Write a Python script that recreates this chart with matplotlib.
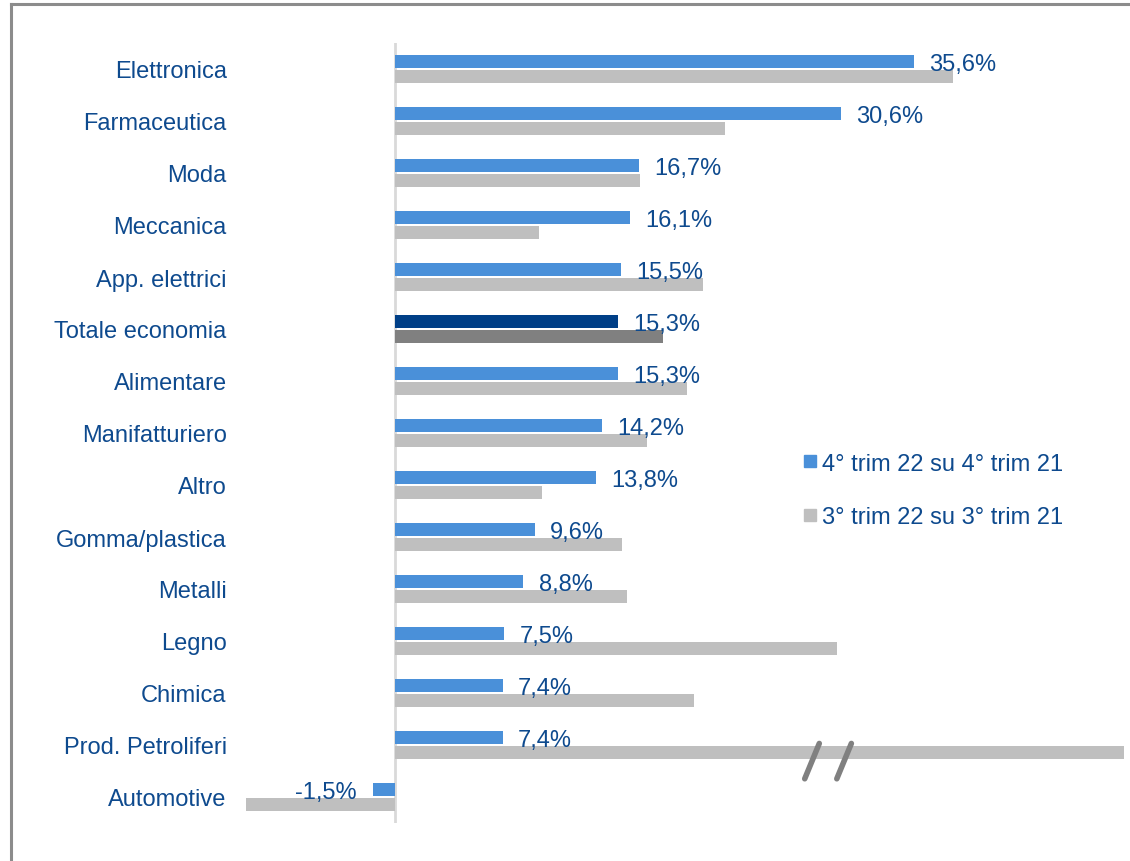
import matplotlib
matplotlib.use("Agg")
import matplotlib.pyplot as plt
import numpy as np
from matplotlib.lines import Line2D

plt.rcParams['font.family'] = ['Liberation Sans', 'DejaVu Sans']

categories = ["Elettronica", "Farmaceutica", "Moda", "Meccanica", "App. elettrici",
              "Totale economia", "Alimentare", "Manifatturiero", "Altro", "Gomma/plastica",
              "Metalli", "Legno", "Chimica", "Prod. Petroliferi", "Automotive"]
q4 = [35.6, 30.6, 16.7, 16.1, 15.5, 15.3, 15.3, 14.2, 13.8, 9.6, 8.8, 7.5, 7.4, 7.4, -1.5]
# grey series is not labelled in the source
# (Prod. Petroliferi is cut by an axis break)
q3 = [38.3, 22.6, 16.8, 9.9, 21.1, 18.4, 20.0, 17.3, 10.1, 15.6, 15.9, 30.3, 20.5, 52.0, -10.2]
legend_labels = ["4° trim 22 su 4° trim 21", "3° trim 22 su 3° trim 21"]

BLUE = "#4A90D9"
BLUE_TOT = "#003F87"
GREY = "#BFBFBF"
GREY_TOT = "#808080"
TXT = "#0E4A8E"

y = np.arange(len(categories))
c4 = [BLUE_TOT if c == "Totale economia" else BLUE for c in categories]
c3 = [GREY_TOT if c == "Totale economia" else GREY for c in categories]

fig = plt.figure(figsize=(11.3, 8.62), dpi=100)
ax = fig.add_axes([243.4 / 1130, 38 / 862, 880.6 / 1130, 780 / 862])

off = 0.144
h = 0.25
ax.barh(y - off, q4, height=h, color=c4, zorder=2)
ax.barh(y + off, q3, height=h, color=c3, zorder=2)

for yi, v in zip(y, q4):
    s = f"{v:.1f}%".replace(".", ",")
    if v >= 0:
        ax.annotate(s, (v, yi - off), xytext=(11, -2), textcoords="offset points",
                    ha="left", va="center", fontsize=17, color=TXT, zorder=3)
    else:
        ax.annotate(s, (v, yi - off), xytext=(-12, -2), textcoords="offset points",
                    ha="right", va="center", fontsize=17, color=TXT, zorder=3)

ax.set_xlim(-10.4, 50.0)
ax.set_ylim(len(categories) - 0.5, -0.5)
ax.axvline(0, color="#D9D9D9", lw=2, zorder=1)

ax.set_yticks(y)
ax.set_yticklabels(categories, fontsize=17, color=TXT)
ax.tick_params(axis="y", length=0, pad=12)
ax.set_xticks([])
for sp in ax.spines.values():
    sp.set_visible(False)

# axis break marks on the Prod. Petroliferi bar
i_pp = categories.index("Prod. Petroliferi")
for xb in [28.6, 30.8]:
    ax.plot([xb - 0.5, xb + 0.5], [i_pp + 0.65, i_pp - 0.03], color="#808080",
            lw=4, solid_capstyle="round", zorder=4)

handles = [Line2D([], [], marker="s", ls="", color=BLUE, markersize=9),
           Line2D([], [], marker="s", ls="", color=GREY, markersize=9)]
leg = ax.legend(handles, legend_labels, loc="upper left", bbox_to_anchor=(0.6245, 0.487),
                frameon=False, fontsize=17, handlelength=0.6, handletextpad=0.2,
                labelspacing=1.35, borderaxespad=0)
for t in leg.get_texts():
    t.set_color(TXT)

# outer frame (only top and left visible in crop)
fig.add_artist(Line2D([11 / 1130, 1.0], [1 - 4.5 / 862, 1 - 4.5 / 862],
                      transform=fig.transFigure, color="#8C8C8C", lw=2.2))
fig.add_artist(Line2D([11 / 1130, 11 / 1130], [0, 1 - 4.5 / 862],
                      transform=fig.transFigure, color="#8C8C8C", lw=2.2))

fig.savefig("out.png", dpi=100)
